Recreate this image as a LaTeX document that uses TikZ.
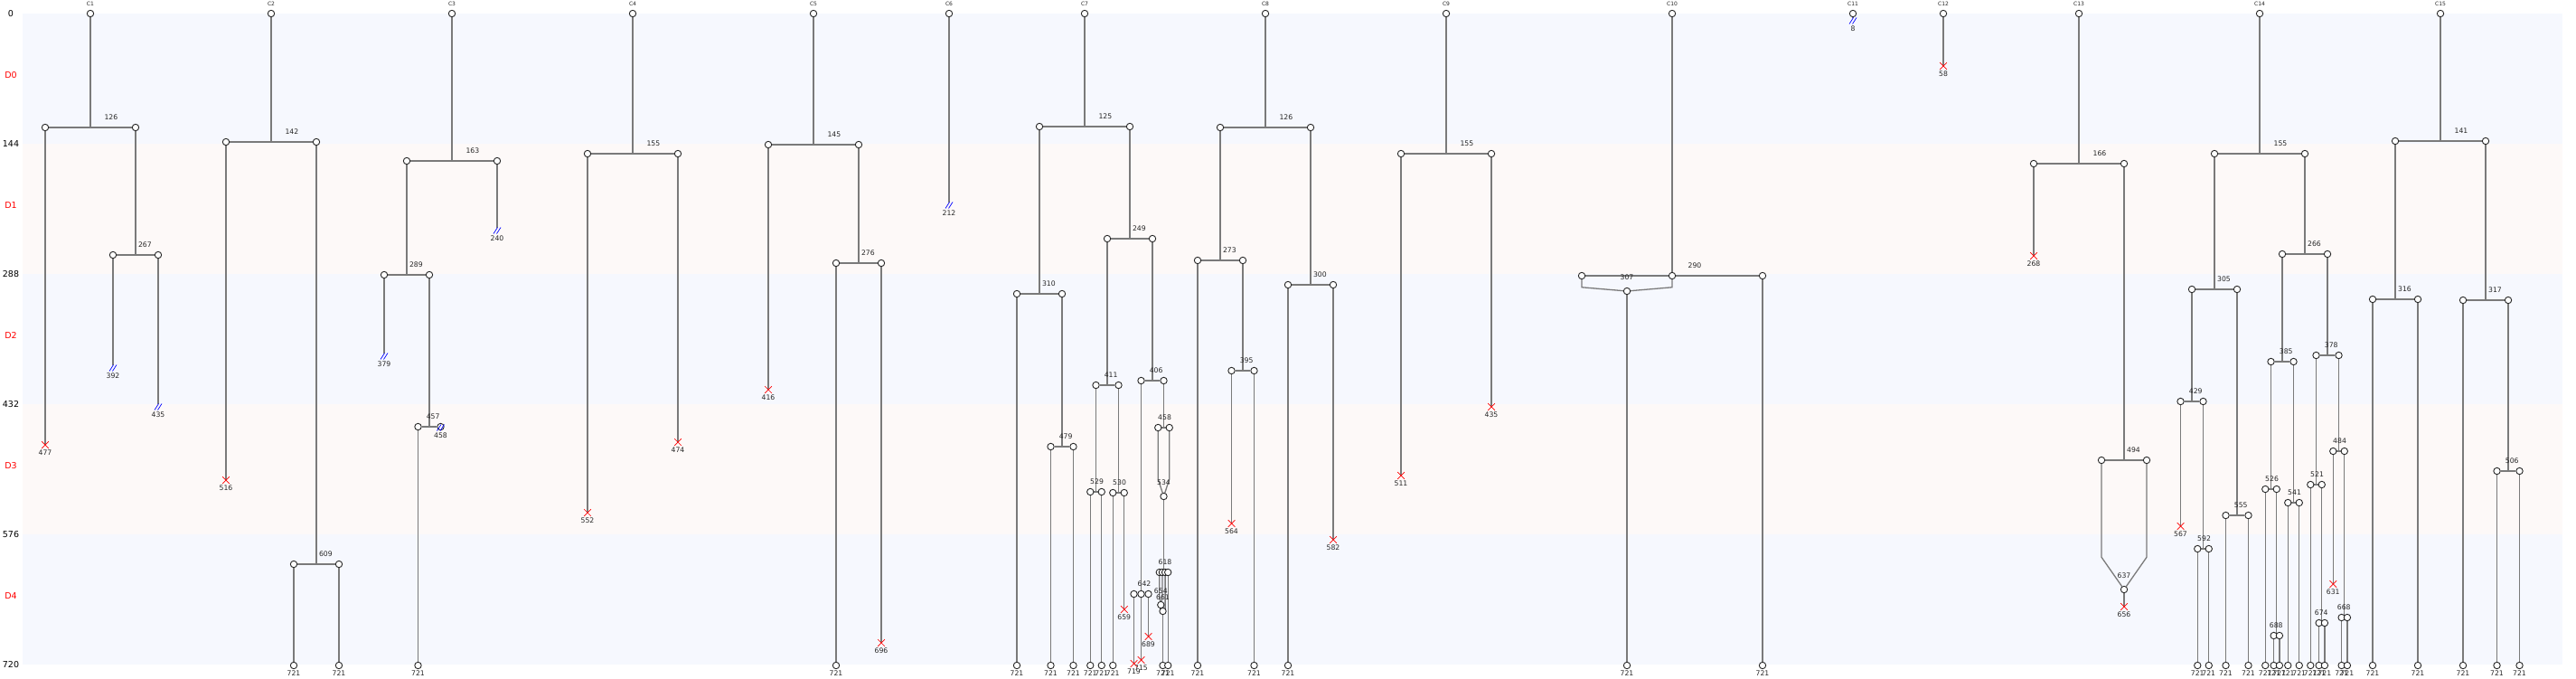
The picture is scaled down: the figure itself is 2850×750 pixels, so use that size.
\documentclass[tikz,border=0pt]{standalone}
\usepackage{fontspec}
\setmainfont{DejaVu Sans}
\usetikzlibrary{shapes.misc}
\pgfdeclarelayer{bands}
\pgfdeclarelayer{edges}
\pgfsetlayers{bands,edges,main}
\definecolor{bandA}{HTML}{F6F8FE}
\definecolor{bandB}{HTML}{FDF9F8}
\definecolor{edgegray}{HTML}{7A7A7A}
\tikzset{
 cnode/.style={circle, draw=black!85, fill=white, line width=0.9pt, minimum size=7.4pt, inner sep=0pt},
 edge/.style={draw=edgegray, line width=1.3pt},
 xnode/.style={cross out, draw=red, line width=0.7pt, minimum size=7pt, inner sep=0pt},
 cutmark/.style={draw=blue, line width=0.7pt},
 vlab/.style={font=\fontsize{7.7}{8}\selectfont, text=black!85, inner sep=0pt},
 clab/.style={font=\fontsize{6}{7}\selectfont, text=black!85, inner sep=0pt},
 axlab/.style={font=\fontsize{9.5}{11}\selectfont, inner sep=0pt},
 dlab/.style={font=\fontsize{9.5}{11}\selectfont, text=red, inner sep=0pt},
}
% root circle with column label
\newcommand\Root[3]{%
  \node[cnode] (#1) at (#2,0) {};
  \node[clab] (#1-l) at (#2,-10.7) {#3};}
% binary split: parent, left, right, lx, rx, v
\newcommand\Split[6]{%
  \node[cnode] (#2) at (#4,#6) {};
  \node[cnode] (#3) at (#5,#6) {};
  \begin{pgfonlayer}{edges}
   \draw[edge] (#1) |- (#2);
   \draw[edge] (#1) |- (#3);
  \end{pgfonlayer}
  \path (#1 |- #3) -- (#3) node[midway, yshift=11.7pt, vlab] (#2-l) {#6};}
% leaf at 721: from, name, x
\newcommand\Leaf[3]{%
  \node[cnode] (#2) at (#3,721) {};
  \begin{pgfonlayer}{edges}\draw[edge] (#1) -- (#2);\end{pgfonlayer}
  \node[vlab] (#2-l) at (#3,729.3) {721};}
% death: from, name, x, v
\newcommand\Death[4]{%
  \node[xnode] (#2) at (#3,#4) {};
  \begin{pgfonlayer}{edges}\draw[edge] (#1) -- (#2.center);\end{pgfonlayer}
  \node[vlab] (#2-l) at (#3,#4+8.5) {#4};}
% cut: from, name, x, v
\newcommand\Cut[4]{%
  \coordinate (#2) at (#3,#4);
  \begin{pgfonlayer}{edges}\draw[edge] (#1) -- ([yshift=3pt]#2);\end{pgfonlayer}
  \draw[cutmark] (#2) ++(-4,3.5) -- ++(4.5,-7);
  \draw[cutmark] (#2) ++(-0.5,3.5) -- ++(4.5,-7);
  \node[vlab] (#2-l) at (#3,#4+8.5) {#4};}
% merge: a, ax, b, bx, name, mx, v, bend
\newcommand\Merge[8]{%
  \node[cnode] (#5) at (#6,#7) {};
  \coordinate (#5-ba) at (#2,#8);
  \coordinate (#5-bb) at (#4,#8);
  \begin{pgfonlayer}{edges}
   \draw[edge] (#1) -- (#5-ba) -- (#5);
   \draw[edge] (#3) -- (#5-bb) -- (#5);
  \end{pgfonlayer}
  \node[vlab] (#5-l) at (#6,#7-15) {#7};}

\begin{document}
\begin{tikzpicture}[x=1pt,y=-1pt]
\useasboundingbox (0,0) rectangle (2850,750);
\begin{scope}[shift={(0,15)}]
\begin{pgfonlayer}{bands}
\fill[bandA] (25,0) rectangle (2835,144);
\fill[bandB] (25,144) rectangle (2835,288);
\fill[bandA] (25,288) rectangle (2835,432);
\fill[bandB] (25,432) rectangle (2835,576);
\fill[bandA] (25,576) rectangle (2835,720);
\end{pgfonlayer}
% axis
\node[axlab] (ax0) at (12,0) {0};
\node[axlab] (ax1) at (12,144) {144};
\node[axlab] (ax2) at (12,288) {288};
\node[axlab] (ax3) at (12,432) {432};
\node[axlab] (ax4) at (12,576) {576};
\node[axlab] (ax5) at (12,720) {720};
\node[dlab] (dl0) at (12,68) {D0};
\node[dlab] (dl1) at (12,212) {D1};
\node[dlab] (dl2) at (12,356) {D2};
\node[dlab] (dl3) at (12,500) {D3};
\node[dlab] (dl4) at (12,644) {D4};

% C1
\Root{c1}{100}{C1}
\Split{c1}{c1a}{c1b}{50}{150}{126}
\Death{c1a}{c1ax}{50}{477}
\Split{c1b}{c1ba}{c1bb}{125}{175}{267}
\Cut{c1ba}{c1bax}{125}{392}
\Cut{c1bb}{c1bbx}{175}{435}
% C2
\Root{c2}{300}{C2}
\Split{c2}{c2a}{c2b}{250}{350}{142}
\Death{c2a}{c2ax}{250}{516}
\Split{c2b}{c2ba}{c2bb}{325}{375}{609}
\Leaf{c2ba}{c2bae}{325}
\Leaf{c2bb}{c2bbe}{375}
% C3
\Root{c3}{500}{C3}
\Split{c3}{c3a}{c3b}{450}{550}{163}
\Cut{c3b}{c3bx}{550}{240}
\Split{c3a}{c3aa}{c3ab}{425}{475}{289}
\Cut{c3aa}{c3aax}{425}{379}
\Split{c3ab}{c3aba}{c3abb}{462.5}{487.5}{457}
\Leaf{c3aba}{c3abae}{462.5}
\Cut{c3abb}{c3abbx}{487.5}{458}
% C4
\Root{c4}{700}{C4}
\Split{c4}{c4a}{c4b}{650}{750}{155}
\Death{c4a}{c4ax}{650}{552}
\Death{c4b}{c4bx}{750}{474}
% C5
\Root{c5}{900}{C5}
\Split{c5}{c5a}{c5b}{850}{950}{145}
\Death{c5a}{c5ax}{850}{416}
\Split{c5b}{c5ba}{c5bb}{925}{975}{276}
\Leaf{c5ba}{c5bae}{925}
\Death{c5bb}{c5bbx}{975}{696}
% C6
\Root{c6}{1050}{C6}
\Cut{c6}{c6x}{1050}{212}
% C7
\Root{c7}{1200}{C7}
\Split{c7}{c7a}{c7b}{1150}{1250}{125}
\Split{c7a}{c7aa}{c7ab}{1125}{1175}{310}
\Leaf{c7aa}{c7aae}{1125}
\Split{c7ab}{c7aba}{c7abb}{1162.5}{1187.5}{479}
\Leaf{c7aba}{c7abae}{1162.5}
\Leaf{c7abb}{c7abbe}{1187.5}
\Split{c7b}{c7ba}{c7bb}{1225}{1275}{249}
\Split{c7ba}{c7baa}{c7bab}{1212.5}{1237.5}{411}
\Split{c7baa}{c7baaa}{c7baab}{1206.25}{1218.75}{529}
\Leaf{c7baaa}{c7baaae}{1206.25}
\Leaf{c7baab}{c7baabe}{1218.75}
\Split{c7bab}{c7baba}{c7babb}{1231.25}{1243.75}{530}
\Leaf{c7baba}{c7babae}{1231.25}
\Death{c7babb}{c7babbx}{1243.75}{659}
\Split{c7bb}{c7bba}{c7bbb}{1262.5}{1287.5}{406}
% three-way split at 642
\node[cnode] (c7q1) at (1254.5,642) {};
\node[cnode] (c7q2) at (1262.5,642) {};
\node[cnode] (c7q3) at (1270.5,642) {};
\begin{pgfonlayer}{edges}
\draw[edge] (c7bba) -- (c7q2);
\draw[edge] (c7q1) -- (c7q3);
\end{pgfonlayer}
\node[vlab] (c7q-l) at (1266,630.3) {642};
\Death{c7q1}{c7q1x}{1254.5}{719}
\Death{c7q2}{c7q2x}{1262.5}{715}
\Death{c7q3}{c7q3x}{1270.5}{689}
% 458 split and merge at 534
\Split{c7bbb}{c7r1}{c7r2}{1281.25}{1293.75}{458}
\Merge{c7r1}{1281.25}{c7r2}{1293.75}{c7m}{1287.5}{534}{515}
% four-way split at 618
\coordinate (c7sj) at (1287.5,618);
\node[cnode] (c7s1) at (1282.8,618) {};
\node[cnode] (c7s2) at (1285.9,618) {};
\node[cnode] (c7s3) at (1289.1,618) {};
\node[cnode] (c7s4) at (1292.2,618) {};
\begin{pgfonlayer}{edges}
\draw[edge] (c7m) -- (c7sj);
\draw[edge] (c7s1) -- (c7s4);
\end{pgfonlayer}
\node[vlab] (c7s-l) at (1289,606.3) {618};
\Merge{c7s1}{1282.8}{c7s2}{1285.9}{c7t}{1284.3}{654}{645}
\Merge{c7t}{1284.3}{c7s3}{1289.1}{c7u}{1286.5}{661}{659}
\Leaf{c7u}{c7ue}{1286.5}
\Leaf{c7s4}{c7s4e}{1292.2}
% C8
\Root{c8}{1400}{C8}
\Split{c8}{c8a}{c8b}{1350}{1450}{126}
\Split{c8a}{c8aa}{c8ab}{1325}{1375}{273}
\Leaf{c8aa}{c8aae}{1325}
\Split{c8ab}{c8aba}{c8abb}{1362.5}{1387.5}{395}
\Death{c8aba}{c8abax}{1362.5}{564}
\Leaf{c8abb}{c8abbe}{1387.5}
\Split{c8b}{c8ba}{c8bb}{1425}{1475}{300}
\Leaf{c8ba}{c8bae}{1425}
\Death{c8bb}{c8bbx}{1475}{582}
% C9
\Root{c9}{1600}{C9}
\Split{c9}{c9a}{c9b}{1550}{1650}{155}
\Death{c9a}{c9ax}{1550}{511}
\Death{c9b}{c9bx}{1650}{435}
% C10
\Root{c10}{1850}{C10}
\node[cnode] (c10a) at (1750,290) {};
\node[cnode] (c10b) at (1850,290) {};
\node[cnode] (c10c) at (1950,290) {};
\begin{pgfonlayer}{edges}
\draw[edge] (c10) -- (c10b);
\draw[edge] (c10a) -- (c10c);
\end{pgfonlayer}
\node[vlab] (c10-l) at (1875,278.3) {290};
\Merge{c10a}{1750}{c10b}{1850}{c10m}{1800}{307}{302.75}
\Leaf{c10m}{c10me}{1800}
\Leaf{c10c}{c10ce}{1950}
% C11
\Root{c11}{2050}{C11}
\Cut{c11}{c11x}{2050}{8}
% C12
\Root{c12}{2150}{C12}
\Death{c12}{c12x}{2150}{58}
% C13
\Root{c13}{2300}{C13}
\Split{c13}{c13a}{c13b}{2250}{2350}{166}
\Death{c13a}{c13ax}{2250}{268}
\Split{c13b}{c13ba}{c13bb}{2325}{2375}{494}
\Merge{c13ba}{2325}{c13bb}{2375}{c13m}{2350}{637}{601.25}
\Death{c13m}{c13mx}{2350}{656}
% C14
\Root{c14}{2500}{C14}
\Split{c14}{c14a}{c14b}{2450}{2550}{155}
\Split{c14a}{c14aa}{c14ab}{2425}{2475}{305}
\Split{c14aa}{c14aaa}{c14aab}{2412.5}{2437.5}{429}
\Death{c14aaa}{c14aaax}{2412.5}{567}
\Split{c14aab}{c14aaba}{c14aabb}{2431.25}{2443.75}{592}
\Leaf{c14aaba}{c14aabae}{2431.25}
\Leaf{c14aabb}{c14aabbe}{2443.75}
\Split{c14ab}{c14aba}{c14abb}{2462.5}{2487.5}{555}
\Leaf{c14aba}{c14abae}{2462.5}
\Leaf{c14abb}{c14abbe}{2487.5}
\Split{c14b}{c14ba}{c14bb}{2525}{2575}{266}
\Split{c14ba}{c14baa}{c14bab}{2512.5}{2537.5}{385}
\Split{c14baa}{c14baaa}{c14baab}{2506.25}{2518.75}{526}
\Leaf{c14baaa}{c14baaae}{2506.25}
\Split{c14baab}{c14baaba}{c14baabb}{2515.6}{2521.9}{688}
\Leaf{c14baaba}{c14baabae}{2515.6}
\Leaf{c14baabb}{c14baabbe}{2521.9}
\Split{c14bab}{c14baba}{c14babb}{2531.25}{2543.75}{541}
\Leaf{c14baba}{c14babae}{2531.25}
\Leaf{c14babb}{c14babbe}{2543.75}
\Split{c14bb}{c14bba}{c14bbb}{2562.5}{2587.5}{378}
\Split{c14bba}{c14bbaa}{c14bbab}{2556.25}{2568.75}{521}
\Leaf{c14bbaa}{c14bbaae}{2556.25}
\Split{c14bbab}{c14bbaba}{c14bbabb}{2565.6}{2571.9}{674}
\Leaf{c14bbaba}{c14bbabae}{2565.6}
\Leaf{c14bbabb}{c14bbabbe}{2571.9}
\Split{c14bbb}{c14bbba}{c14bbbb}{2581.25}{2593.75}{484}
\Death{c14bbba}{c14bbbax}{2581.25}{631}
\Split{c14bbbb}{c14bbbba}{c14bbbbb}{2590.6}{2596.9}{668}
\Leaf{c14bbbba}{c14bbbbae}{2590.6}
\Leaf{c14bbbbb}{c14bbbbbe}{2596.9}
% C15
\Root{c15}{2700}{C15}
\Split{c15}{c15a}{c15b}{2650}{2750}{141}
\Split{c15a}{c15aa}{c15ab}{2625}{2675}{316}
\Leaf{c15aa}{c15aae}{2625}
\Leaf{c15ab}{c15abe}{2675}
\Split{c15b}{c15ba}{c15bb}{2725}{2775}{317}
\Leaf{c15ba}{c15bae}{2725}
\Split{c15bb}{c15bba}{c15bbb}{2762.5}{2787.5}{506}
\Leaf{c15bba}{c15bbae}{2762.5}
\Leaf{c15bbb}{c15bbbe}{2787.5}
\end{scope}
\end{tikzpicture}
\end{document}
